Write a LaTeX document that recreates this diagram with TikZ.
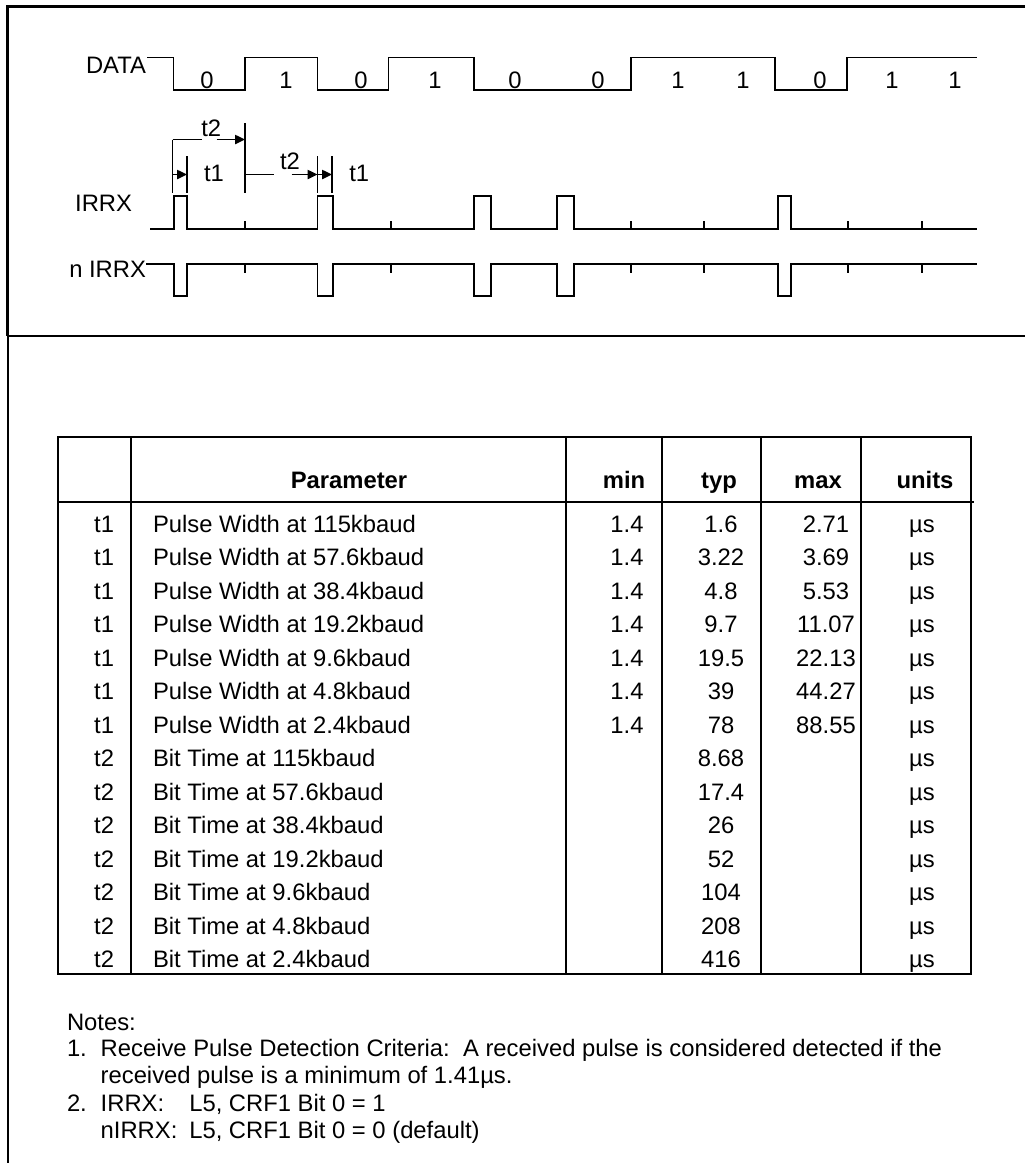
\documentclass[tikz,border=0pt]{standalone}
\usepackage{fontspec}
\setmainfont{Liberation Sans}
\usetikzlibrary{arrows.meta}
\begin{document}
\begin{tikzpicture}[x=0.5pt,y=-0.5pt,
  every node/.style={inner sep=0pt, outer sep=0pt, font=\fontsize{11.9}{14}\selectfont},
  wave/.style={line width=0.9pt, line join=miter},
  tick/.style={line width=0.9pt},
  tbl/.style={line width=0.9pt},
  dimline/.style={line width=0.9pt},
  dimarrow/.style={line width=0.9pt, -{Triangle[length=5pt,width=4.6pt]}},
  framethick/.style={line width=1.5pt},
  framethin/.style={line width=1pt},
  hdr/.style={anchor=base, font=\fontsize{11.9}{14}\selectfont\bfseries},
  cell/.style={anchor=base},
  lbl/.style={anchor=base east},
  bit/.style={anchor=base},
  tlabel/.style={anchor=base west},
  note/.style={anchor=base west}
]
\useasboundingbox (0,0) rectangle (1025,1163);

% ---------- frame ----------
\draw[framethick] (1025,6.7) -- (7.9,6.7) -- (7.9,336);
\draw[framethin] (7.8,335) -- (7.8,1163);
\draw[framethin] (7.8,335.7) -- (1025,335.7);

% ---------- signal labels ----------
\node[lbl] (ldata) at (146,73) {DATA};
\node[lbl] (lirrx) at (132,211.7) {IRRX};
\node[lbl] (lnirrx) at (146,277.7) {n IRRX};

% ---------- DATA waveform ----------
\draw[wave]
  (147,57.5) -- (173.5,57.5) -- (173.5,90) -- (245,90) -- (245,57.5) -- (317.5,57.5)
  -- (317.5,90) -- (388.5,90) -- (388.5,57.5) -- (474,57.5) -- (474,90) -- (631,90)
  -- (631,57.5) -- (775,57.5) -- (775,90) -- (847,90) -- (847,57.5) -- (977,57.5);

\foreach \xx/\bb [count=\k] in {207/0,286/1,361/0,435/1,515/0,598/0,678/1,743/1,820/0,892/1,955/1}
  \node[bit] (bit\k) at (\xx,88) {\bb};

% ---------- IRRX waveform ----------
\draw[wave] (150,229)
  -- (174,229) -- (174,196) -- (187,196) -- (187,229)
  -- (317.5,229) -- (317.5,196) -- (333,196) -- (333,229)
  -- (474,229) -- (474,196) -- (491,196) -- (491,229)
  -- (557,229) -- (557,196) -- (574,196) -- (574,229)
  -- (778,229) -- (778,196) -- (791,196) -- (791,229)
  -- (977,229);
\foreach \xx in {245,391,631,704,848,922}
  \draw[tick] (\xx,229) -- (\xx,221);

% ---------- nIRRX waveform ----------
\draw[wave] (146,264)
  -- (174,264) -- (174,296) -- (187,296) -- (187,264)
  -- (317.5,264) -- (317.5,296) -- (333,296) -- (333,264)
  -- (474,264) -- (474,296) -- (491,296) -- (491,264)
  -- (557,264) -- (557,296) -- (574,296) -- (574,264)
  -- (778,264) -- (778,296) -- (791,296) -- (791,264)
  -- (977,264);
\foreach \xx in {245,391,631,704,848,922}
  \draw[tick] (\xx,264) -- (\xx,273);

% ---------- t1 / t2 dimension marks ----------
\coordinate (aT) at (172.5,139.5); \coordinate (aB) at (172.5,193);
\coordinate (bT) at (245,123);     \coordinate (bB) at (245,193);
\coordinate (cT) at (187,156);     \coordinate (cB) at (187,193);
\coordinate (dT) at (317.5,156);   \coordinate (dB) at (317.5,193);
\coordinate (eT) at (332,156);     \coordinate (eB) at (332,193);
\draw[dimline] (aT) -- (aB);
\draw[dimline] (bT) -- (bB);
\draw[dimline] (cT) -- (cB);
\draw[dimline] (dT) -- (dB);
\draw[dimline] (eT) -- (eB);

% first t2
\node[anchor=base] (t2a) at (211.2,136.7) {t2};
\coordinate (g1a) at (201.7,139.5); \coordinate (g1b) at (216.7,139.5);
\coordinate (b1) at (245,139.5);
\draw[dimline] (aT) -- (g1a);
\draw[dimarrow] (g1b) -- (b1);

% first t1
\coordinate (a1) at (172.5,174.5); \coordinate (c1) at (187,174.5);
\draw[dimarrow] (a1) -- (c1);
\node[tlabel] (t1a) at (204,181.7) {t1};

% second t2
\node[tlabel] (t2b) at (280,169.3) {t2};
\coordinate (b2) at (245,174.5); \coordinate (g2a) at (274,174.5);
\coordinate (g2b) at (291.7,174.5); \coordinate (d2) at (317.5,174.5);
\draw[dimline] (b2) -- (g2a);
\draw[dimarrow] (g2b) -- (d2);

% second t1
\coordinate (e2) at (332,174.5);
\draw[dimarrow] (d2) -- (e2);
\node[tlabel] (t1b) at (349.3,181.7) {t1};

% ---------- table ----------
\draw[tbl] (58,437) rectangle (971,974);
\draw[tbl] (58,502) -- (974,502);
\foreach \xx in {131,566,662,761,861}
  \draw[tbl] (\xx,437) -- (\xx,974);

\node[hdr] (hpar) at (349,488.3) {Parameter};
\node[hdr] (hmin) at (624,488.3) {min};
\node[hdr] (htyp) at (719,488.3) {typ};
\node[hdr] (hmax) at (818,488.3) {max};
\node[hdr] (hunits) at (925,488.3) {units};

\foreach \p/\ty/\mx [count=\i from 0] in {115/1.6/2.71, 57.6/3.22/3.69, 38.4/4.8/5.53, 19.2/9.7/11.07, 9.6/19.5/22.13, 4.8/39/44.27, 2.4/78/88.55}{
  \pgfmathsetmacro\yb{532+33.5*\i}
  \node[anchor=base east] (sym\i) at (114,\yb) {t1};
  \node[anchor=base west] (par\i) at (153,\yb) {Pulse Width at \p kbaud};
  \node[cell] (min\i) at (627,\yb) {1.4};
  \node[cell] (typ\i) at (721,\yb) {\ty};
  \node[cell] (max\i) at (826,\yb) {\mx};
}
\foreach \p/\ty [count=\i from 7] in {115/8.68, 57.6/17.4, 38.4/26, 19.2/52, 9.6/104, 4.8/208, 2.4/416}{
  \pgfmathsetmacro\yb{532+33.5*\i}
  \node[anchor=base east] (sym\i) at (114,\yb) {t2};
  \node[anchor=base west] (par\i) at (153,\yb) {Bit Time at \p kbaud};
  \node[cell] (typ\i) at (721,\yb) {\ty};
}
\foreach \i in {0,...,13}{
  \pgfmathsetmacro\yb{532+33.5*\i}
  \node[cell] (unit\i) at (922,\yb) {µs};
}

% ---------- notes ----------
\node[note] (notes) at (67,1030) {Notes:};
\node[note] (n1num) at (67,1056) {1.};
\node[note] (n1a) at (100.7,1056) {Receive Pulse Detection Criteria:\ \ A received pulse is considered detected if the};
\node[note] (n1b) at (100.7,1083) {received pulse is a minimum of 1.41µs.};
\node[note] (n2num) at (67,1111) {2.};
\node[note] (n2a) at (100.7,1111) {IRRX:};
\node[note] (n2b) at (189.3,1111) {L5, CRF1 Bit 0 = 1};
\node[note] (n3a) at (100.7,1138) {nIRRX:};
\node[note] (n3b) at (189.3,1138) {L5, CRF1 Bit 0 = 0 (default)};
\end{tikzpicture}
\end{document}
